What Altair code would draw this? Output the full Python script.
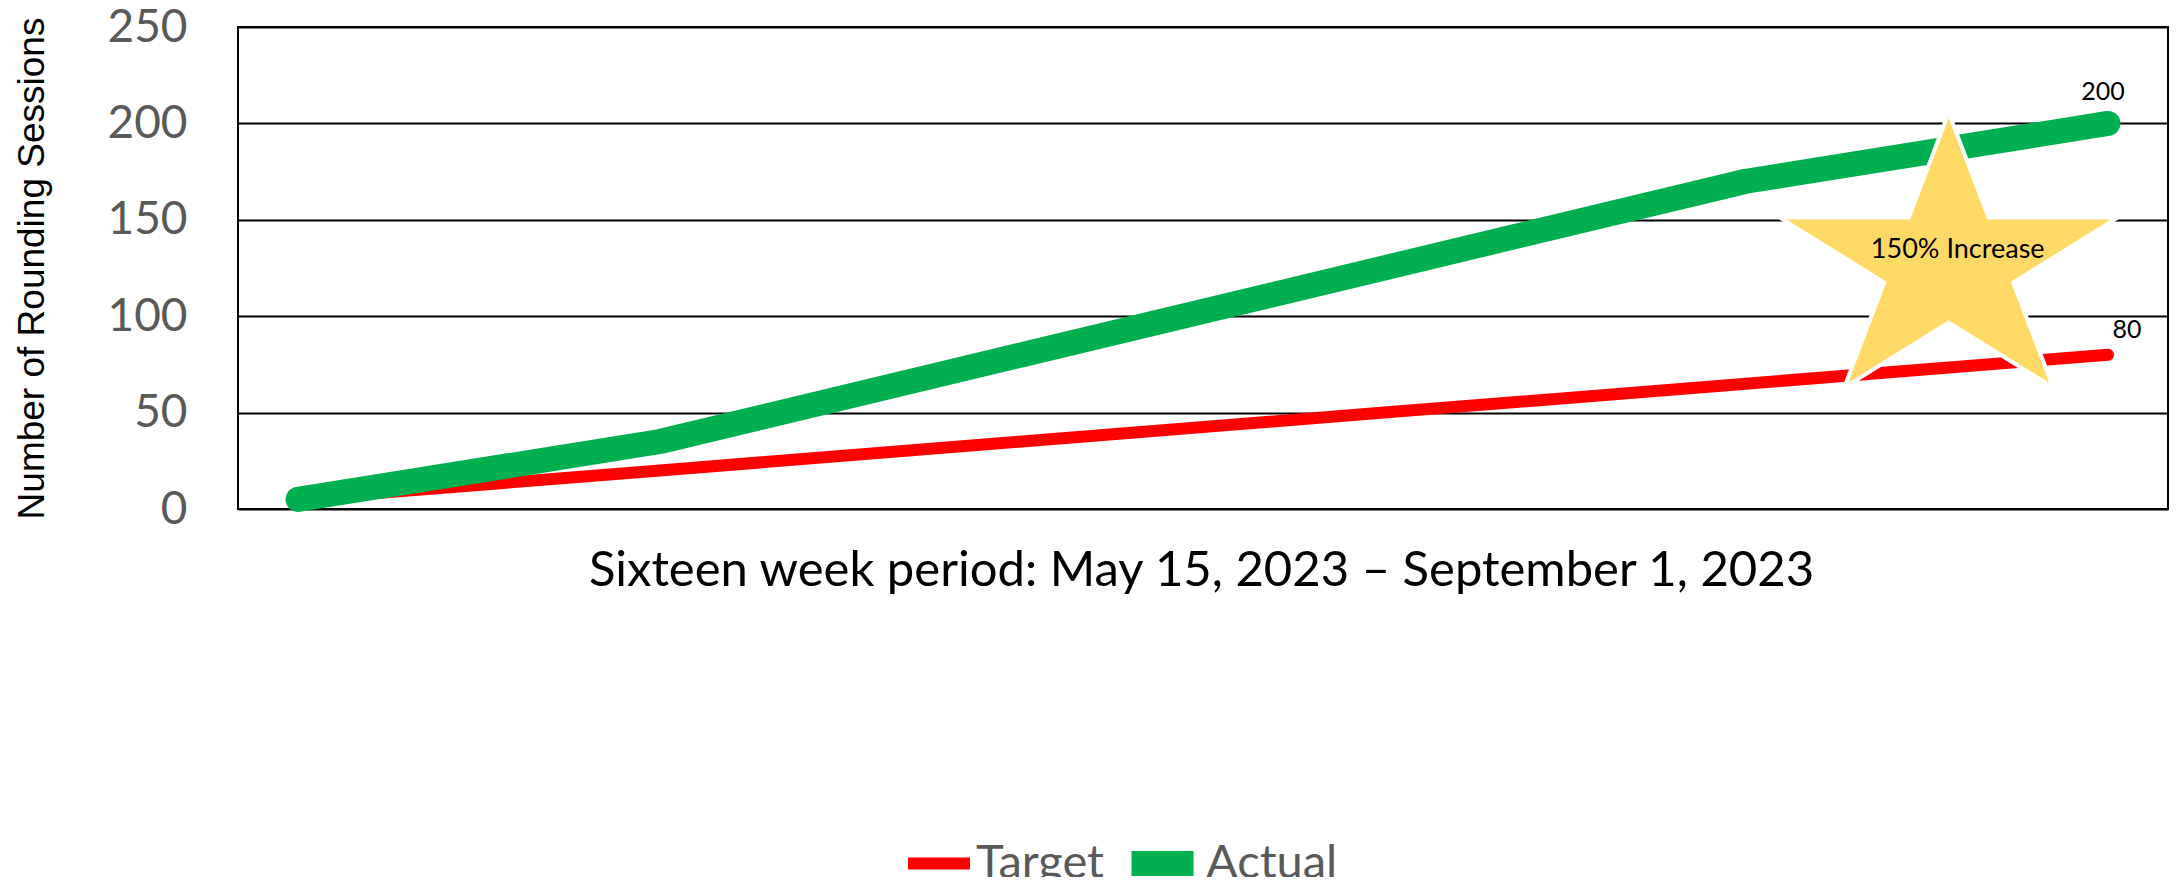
import math
import altair as alt
import pandas as pd

# ---- data ----
periods = [1, 2, 3, 4, 5, 6]
target = [5, 20, 35, 50, 65, 80]
actual = [5, 35, 80, 125, 170, 200]
series_names = ["Target", "Actual"]
series_colors = ["#FF0000", "#00B050"]
series_widths = [12, 25]
y_ticks = [0, 50, 100, 150, 200, 250]

x_title = "Sixteen week period: May 15, 2023 \u2013 September 1, 2023"
y_title = "Number of Rounding Sessions"

star_label = ["150% Increase"]
star_period = [5.56]
star_value = [126.8]

df = pd.DataFrame({
    "period": periods * 2,
    "value": target + actual,
    "series": ["Target"] * len(periods) + ["Actual"] * len(periods),
})
star_df = pd.DataFrame({"period": star_period, "value": star_value, "label": star_label})


def star_path(aspect=0.855, inner=0.382):
    pts = []
    for k in range(10):
        ang = math.radians(36 * k)
        r = 1.0 if k % 2 == 0 else inner
        pts.append((r * math.sin(ang), -r * math.cos(ang) * aspect))
    return "M" + " L".join(f"{x:.4f},{y:.4f}" for x, y in pts) + " Z"


PLOT_W, PLOT_H = 1930, 482
margin = 60 / ((PLOT_W - 120) / 5)

x_enc = alt.X(
    "period:Q",
    scale=alt.Scale(domain=[1 - margin, 6 + margin], nice=False, zero=False),
    axis=alt.Axis(
        labels=False, ticks=False, domain=False, grid=False,
        title=x_title, titleFont="Lato", titleFontSize=49, titleFontWeight="normal",
        titleColor="black", titleX=PLOT_W / 2 - 2, titleY=76,
        titleBaseline="alphabetic", titleAlign="center",
    ),
)
y_enc = alt.Y(
    "value:Q",
    scale=alt.Scale(domain=[0, 250], nice=False),
    axis=alt.Axis(
        values=y_ticks, ticks=False, tickSize=0, domain=False,
        grid=True, gridColor="black", gridWidth=2,
        labelFont="Lato", labelFontSize=46, labelColor="#595959", labelPadding=51,
        title=y_title, titleFont="Liberation Sans", titleFontSize=37,
        titleFontWeight="normal", titleColor="black",
        titleX=-206, titleY=PLOT_H / 2, titleAngle=270,
        titleBaseline="middle", titleAlign="center",
    ),
)

legend = alt.Legend(
    orient="none", direction="horizontal", legendX=655, legendY=799,
    symbolType="stroke", clipHeight=75,
    labelFont="Lato", labelFontSize=47, labelColor="#595959",
    symbolSize=3844, symbolOffset=9, labelOffset=0, columnPadding=6,
)
color_enc = alt.Color(
    "series:N", title=None,
    scale=alt.Scale(domain=series_names, range=series_colors), legend=legend,
)
width_enc = alt.StrokeWidth(
    "series:N", title=None,
    scale=alt.Scale(domain=series_names, range=series_widths), legend=legend,
)

base = alt.Chart(df)

red = base.transform_filter(alt.datum.series == "Target").mark_line(
    strokeCap="round", strokeJoin="round"
).encode(x=x_enc, y=y_enc, color=color_enc, strokeWidth=width_enc)

green = base.transform_filter(alt.datum.series == "Actual").mark_line(
    strokeCap="round", strokeJoin="round"
).encode(x=x_enc, y=y_enc, color=color_enc, strokeWidth=width_enc)

last_p = periods[-1]
lab_t = base.transform_filter(
    (alt.datum.series == "Target") & (alt.datum.period == last_p)
).mark_text(dx=19, dy=-17, baseline="alphabetic", font="Lato", fontSize=25, color="black").encode(
    x="period:Q", y="value:Q", text="value:Q"
)
lab_a = base.transform_filter(
    (alt.datum.series == "Actual") & (alt.datum.period == last_p)
).mark_text(dx=-5, dy=-23, baseline="alphabetic", font="Lato", fontSize=25, color="black").encode(
    x="period:Q", y="value:Q", text="value:Q"
)

star = alt.Chart(star_df).mark_point(
    shape=star_path(), size=126300, filled=True, fill="#FFD966",
    stroke="white", strokeWidth=4, opacity=1,
).encode(x="period:Q", y="value:Q")

star_text = alt.Chart(star_df).mark_text(
    dx=9, dy=-15, baseline="middle", font="Lato", fontSize=27, color="black"
).encode(x="period:Q", y="value:Q", text="label:N")

chart = alt.layer(red, green, lab_t, lab_a, star, star_text).properties(
    width=PLOT_W, height=PLOT_H,
    autosize=alt.AutoSizeParams(type="none"),
    padding={"left": 230, "top": 19, "right": 2, "bottom": 368},
).configure_view(stroke="black", strokeWidth=2)

chart.save("out.html", embed_options={"renderer": "svg", "actions": False})
